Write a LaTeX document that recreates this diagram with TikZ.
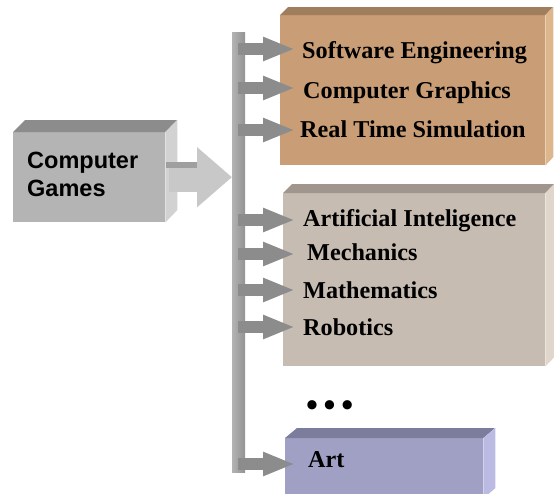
\documentclass[tikz,border=0pt]{standalone}
\usepackage{fontspec}
\setmainfont{Liberation Serif}
\newfontfamily\arialfont{Liberation Sans}
\usetikzlibrary{arrows.meta}

\definecolor{gamesfront}{RGB}{180,180,180}
\definecolor{gamestop}{RGB}{140,140,140}
\definecolor{gamesside}{RGB}{210,210,210}
\definecolor{brownfront}{RGB}{201,157,117}
\definecolor{browntop}{RGB}{160,125,93}
\definecolor{brownside}{RGB}{222,182,142}
\definecolor{greyfront}{RGB}{198,188,178}
\definecolor{greytop}{RGB}{160,150,142}
\definecolor{greyside}{RGB}{224,214,204}
\definecolor{artfront}{RGB}{160,160,196}
\definecolor{arttop}{RGB}{124,124,156}
\definecolor{artside}{RGB}{186,186,226}
\definecolor{pointergray}{RGB}{140,140,140}
\definecolor{biggray}{RGB}{200,200,200}

\tikzset{
  face/.style={draw=none, inner sep=0pt, anchor=north west},
  topic/.style={anchor=base west, inner sep=0pt, font=\bfseries\fontsize{24.2}{28}\selectfont},
  pointer/.style={draw=pointergray, line width=12pt, -{Triangle[length=32pt,width=22pt]}},
  bigpointer/.style={draw=biggray, line width=30pt, -{Triangle[length=35pt,width=58pt]}},
}

\begin{document}
\begin{tikzpicture}[x=1pt, y=-1pt]
    \useasboundingbox (0,0) rectangle (554,493);

    % left box: computer games
    \node [face, fill=gamesfront, minimum width=152pt, minimum height=90pt] (games) at (13,132) {};
    \fill [gamestop]  (games.north west) -- ++(12,-12) -- ++(152,0) -- (games.north east) -- cycle;
    \fill [gamesside] (games.north east) -- ++(12,-12) -- ++(0,90) -- (games.south east) -- cycle;

    % right boxes
    \node [face, fill=brownfront, minimum width=265pt, minimum height=150pt] (box1) at (280,15) {};
    \fill [browntop]  (box1.north west) -- ++(8,-8) -- ++(265,0) -- (box1.north east) -- cycle;
    \fill [brownside] (box1.north east) -- ++(8,-8) -- ++(0,150) -- (box1.south east) -- cycle;

    \node [face, fill=greyfront, minimum width=262pt, minimum height=173pt] (box2) at (283,193) {};
    \fill [greytop]  (box2.north west) -- ++(9,-9) -- ++(262,0) -- (box2.north east) -- cycle;
    \fill [greyside] (box2.north east) -- ++(9,-9) -- ++(0,173) -- (box2.south east) -- cycle;

    \node [face, fill=artfront, minimum width=198pt, minimum height=60pt] (box3) at (285,438) {};
    \fill [arttop]  (box3.north west) -- ++(12,-10) -- ++(198,0) -- (box3.north east) -- cycle;
    \fill [artside] (box3.north east) -- ++(12,-10) -- ++(0,60) -- (box3.south east) -- cycle;

    % vertical bar
    \node [face, left color=gray!60, right color=gray!85, minimum width=13pt, minimum height=440pt] (bar) at (232,32) {};
    \coordinate (tip) at (295,0);

    % big arrow into the bar
    \draw [bigpointer] ([xshift=4pt]games.east) -- (games.east -| bar.west);
    \fill [gray!75] (166,162) rectangle (197,168);

    % small arrows
    \foreach \t/\y in {se/49, gr/88, rt/130, ai/220, me/254, ma/290, ro/327, ar/464}
      {
        \coordinate (from-\t) at (238,\y);
        \draw [pointer] (from-\t) -- (from-\t -| tip);
      }

    % texts
    \node [anchor=base west, inner sep=0pt, align=left,
           font=\arialfont\bfseries\fontsize{23.5}{28}\selectfont] (cg) at (27,196) {Computer\\Games};
    \node [topic] (se) at (302,58)  {Software Engineering};
    \node [topic] (gr) at (303,98)  {Computer Graphics};
    \node [topic] (rt) at (300,137) {Real Time Simulation};
    \node [topic] (ai) at (303,226) {Artificial Inteligence};
    \node [topic] (me) at (307,260) {Mechanics};
    \node [topic] (ma) at (303,298) {Mathematics};
    \node [topic] (ro) at (303,335) {Robotics};
    \node [topic] (art) at (308,467) {Art};
    \node [anchor=base west, inner sep=0pt, font=\bfseries\fontsize{34}{34}\selectfont] (dots) at (306,416) {•\,•\,•};
\end{tikzpicture}
\end{document}
